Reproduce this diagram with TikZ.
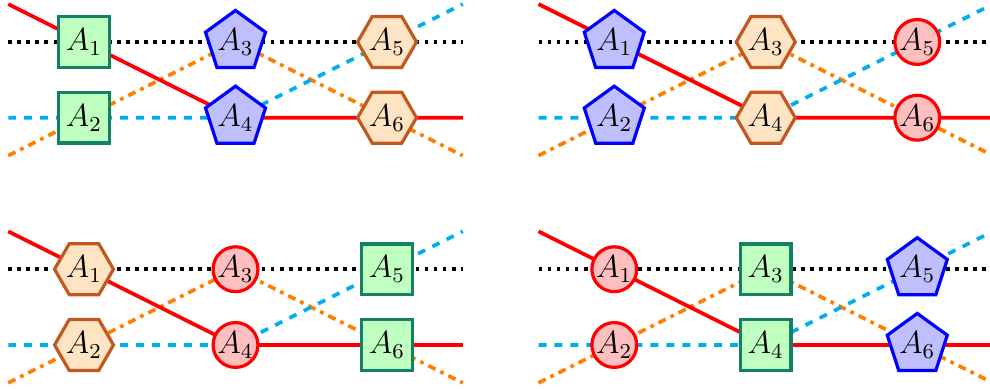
\documentclass[tikz,border=0pt]{standalone}
\usetikzlibrary{shapes.geometric,backgrounds}
\definecolor{sqdraw}{RGB}{20,128,100}
\definecolor{sqfill}{RGB}{191,255,191}
\definecolor{pentfill}{RGB}{191,191,255}
\definecolor{hexdraw}{RGB}{192,88,32}
\definecolor{hexfill}{RGB}{255,228,196}
\definecolor{circfill}{RGB}{255,191,191}
\definecolor{cyanish}{RGB}{0,174,239}
\definecolor{orangeish}{RGB}{255,128,0}
\tikzset{
  nodebase/.style={line width=1.2pt, inner sep=0pt, font=\fontsize{11.5}{13}\selectfont},
  sq/.style={nodebase, rectangle, draw=sqdraw, fill=sqfill, minimum size=19pt},
  pent/.style={nodebase, regular polygon, regular polygon sides=5, draw=blue, fill=pentfill, minimum size=23.5pt},
  hexa/.style={nodebase, regular polygon, regular polygon sides=6, draw=hexdraw, fill=hexfill, minimum size=21.5pt},
  circ/.style={nodebase, circle, draw=red, fill=circfill, minimum size=16.5pt},
  redl/.style={red, line width=1.4pt},
  blackl/.style={black, line width=1.4pt, dotted},
  bluel/.style={cyanish, line width=1.4pt, dashed},
  orangel/.style={orangeish, line width=1.4pt, dash dot},
}
\newcommand\mypanel[6]{%
\begin{scope}[shift={(#1,#2)}]
  \node[#4] (#3A1) at (0,0) {$A_1$};
  \node[#4] (#3A2) at (0,-1) {$A_2$};
  \node[#5] (#3A3) at (2,0) {$A_3$};
  \node[#5] (#3A4) at (2,-1) {$A_4$};
  \node[#6] (#3A5) at (4,0) {$A_5$};
  \node[#6] (#3A6) at (4,-1) {$A_6$};
  \coordinate (#3L1) at (-1,0.5);
  \coordinate (#3L2) at (-1,0);
  \coordinate (#3L3) at (-1,-1);
  \coordinate (#3L4) at (-1,-1.5);
  \coordinate (#3R1) at (5,0.5);
  \coordinate (#3R2) at (5,0);
  \coordinate (#3R3) at (5,-1);
  \coordinate (#3R4) at (5,-1.5);
  \begin{scope}[on background layer]
    \draw[blackl] (#3L2) -- (#3A1.center) -- (#3A3.center) -- (#3A5.center) -- (#3R2);
    \draw[orangel] (#3L4) -- (#3A2.center) -- (#3A3.center) -- (#3A6.center) -- (#3R4);
    \draw[bluel] (#3L3) -- (#3A2.center) -- (#3A4.center) -- (#3A5.center) -- (#3R1);
    \draw[redl] (#3L1) -- (#3A1.center) -- (#3A4.center) -- (#3A6.center) -- (#3R3);
  \end{scope}
\end{scope}}
\begin{document}
\begin{tikzpicture}
  \useasboundingbox (-1.109,0.554) rectangle (11.96,-4.581);
  \mypanel{0}{0}{a}{sq}{pent}{hexa}
  \mypanel{7}{0}{b}{pent}{hexa}{circ}
  \mypanel{0}{-3}{c}{hexa}{circ}{sq}
  \mypanel{7}{-3}{d}{circ}{sq}{pent}
\end{tikzpicture}
\end{document}
